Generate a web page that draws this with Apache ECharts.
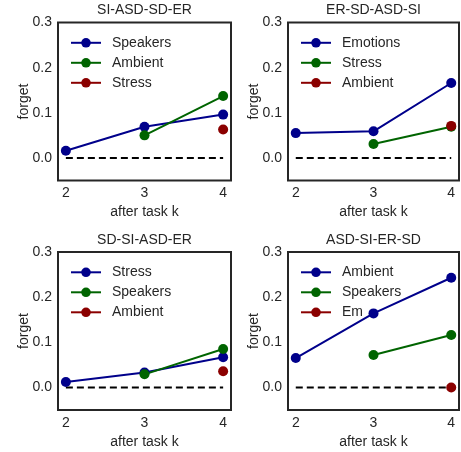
<!DOCTYPE html>
<html><head><meta charset="utf-8">
<script src="https://cdn.jsdelivr.net/npm/echarts@6/dist/echarts.min.js"></script>
<style>html,body{margin:0;padding:0;background:#fff}#c{width:461px;height:452px}</style>
</head><body><div id="c"></div>
<script>
const steps = [2, 3, 4];
const yTicks = [0, 0.1, 0.2, 0.3];
const titles = ['SI-ASD-SD-ER', 'ER-SD-ASD-SI', 'SD-SI-ASD-ER', 'ASD-SI-ER-SD'];
const xLabel = 'after task k';
const yLabel = 'forget';

const names1 = ['Speakers', 'Ambient', 'Stress'];
const p1First = [0.016, 0.069, 0.096];
const p1Second = [null, 0.050, 0.137];
const p1Third = [null, null, 0.063];

const names2 = ['Emotions', 'Stress', 'Ambient'];
const p2First = [0.055, 0.059, 0.166];
const p2Second = [null, 0.031, 0.069];
const p2Third = [null, null, 0.071];

const names3 = ['Stress', 'Speakers', 'Ambient'];
const p3First = [0.012, 0.033, 0.067];
const p3Second = [null, 0.029, 0.085];
const p3Third = [null, null, 0.036];

const names4 = ['Ambient', 'Speakers', 'Em'];
const p4First = [0.065, 0.164, 0.243];
const p4Second = [null, 0.072, 0.116];
const p4Third = [null, null, 0.0];

const panels = [
  {names: names1, vals: [p1First, p1Second, p1Third]},
  {names: names2, vals: [p2First, p2Second, p2Third]},
  {names: names3, vals: [p3First, p3Second, p3Third]},
  {names: names4, vals: [p4First, p4Second, p4Third]}
];

const colors = ['#00008b', '#006400', '#8b0000'];
const txt = '#262626';
const font = '"Liberation Sans", Arial, sans-serif';
const grids = [
  {left: 58, top: 22.5, width: 173, height: 158},
  {left: 288, top: 22.5, width: 171, height: 158},
  {left: 58, top: 252, width: 173, height: 158},
  {left: 288, top: 252, width: 171, height: 158}
];

const option = {
  animation: false,
  backgroundColor: '#fff',
  textStyle: {fontFamily: font},
  title: [], grid: [], xAxis: [], yAxis: [], legend: [], series: []
};

panels.forEach((p, i) => {
  const g = grids[i];
  option.grid.push(Object.assign({show: true, borderColor: txt, borderWidth: 2, containLabel: false}, g));
  option.title.push({
    text: titles[i], left: g.left + g.width / 2, top: g.top - 19.3, textAlign: 'center', padding: 0,
    textStyle: {fontSize: 14, fontWeight: 'normal', color: txt, fontFamily: font}
  });
  option.xAxis.push({
    type: 'value', gridIndex: i, min: 1.9, max: 4.1,
    axisLine: {show: false}, axisTick: {show: false}, splitLine: {show: false},
    axisLabel: {customValues: steps, fontSize: 14, color: txt, margin: 6, fontFamily: font},
    name: xLabel, nameLocation: 'middle', nameGap: 25, nameMoveOverlap: false,
    nameTextStyle: {fontSize: 14, color: txt, fontFamily: font}
  });
  option.yAxis.push({
    type: 'value', gridIndex: i, min: -0.05, max: 0.3,
    axisLine: {show: false}, axisTick: {show: false}, splitLine: {show: false},
    axisLabel: {customValues: yTicks, formatter: v => v.toFixed(1), fontSize: 14, color: txt, margin: 6, fontFamily: font, padding: [2, 0, 0, 0]},
    name: yLabel, nameLocation: 'middle', nameGap: 27, nameMoveOverlap: false,
    nameTextStyle: {fontSize: 14, color: txt, fontFamily: font}
  });
  option.series.push({
    type: 'line', name: i + '|zero', xAxisIndex: i, yAxisIndex: i,
    data: [[steps[0], 0], [steps[steps.length - 1], 0]],
    symbol: 'none', silent: true, z: 2,
    lineStyle: {type: [7, 4], width: 2, color: '#000'}
  });
  const legendData = [];
  p.names.forEach((n, j) => {
    const key = i + '|' + n;
    legendData.push(key);
    option.series.push({
      type: 'line', name: key, xAxisIndex: i, yAxisIndex: i,
      data: steps.map((x, k) => p.vals[j][k] == null ? null : [x, p.vals[j][k]]).filter(d => d),
      symbol: 'circle', symbolSize: 10, z: 3,
      color: colors[j],
      lineStyle: {width: 2, color: colors[j]},
      itemStyle: {color: colors[j]}
    });
  });
  option.legend.push({
    data: legendData, orient: 'vertical', left: g.left + 12, top: g.top + 13.3, padding: 0,
    itemWidth: 30, itemHeight: 12, itemGap: 6, selectedMode: false,
    formatter: name => name.split('|')[1],
    textStyle: {fontSize: 14, color: txt, fontFamily: font, lineHeight: 14, padding: [0, 0, 0, 6]}
  });
});

const chart = echarts.init(document.getElementById('c'), null, {renderer: 'canvas'});
chart.setOption(option);
</script></body></html>
